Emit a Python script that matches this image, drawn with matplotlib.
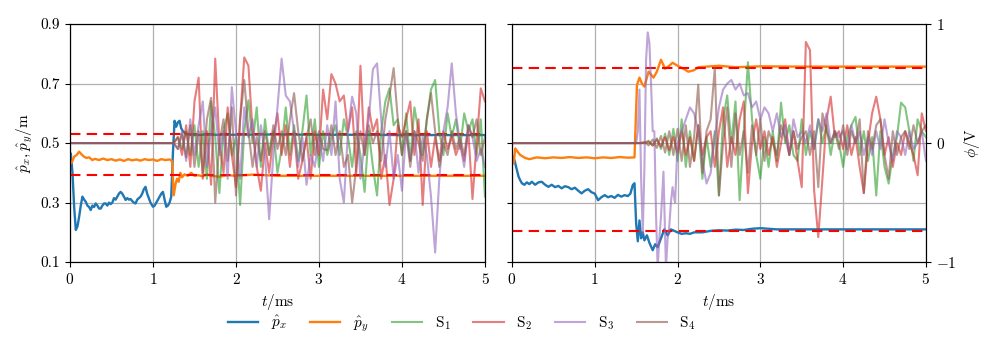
import numpy as np
import matplotlib
matplotlib.use("Agg")
import matplotlib.pyplot as plt

plt.rcParams.update({
    "font.family": "serif",
    "font.serif": ["cmr10"],
    "mathtext.fontset": "cm",
    "axes.formatter.use_mathtext": True,
    "font.size": 11,
    "axes.unicode_minus": True,
})

# ---------------- Left panel data ----------------
L_px_t = [0.00, 0.01, 0.03, 0.05, 0.07, 0.09, 0.11, 0.13, 0.15, 0.17, 0.19, 0.21, 0.23, 0.25, 0.27,
          0.29, 0.31, 0.33, 0.35, 0.37, 0.39, 0.41, 0.43, 0.45, 0.47, 0.49, 0.51, 0.53, 0.55, 0.57,
          0.59, 0.61, 0.63, 0.65, 0.67, 0.69, 0.71, 0.73, 0.75, 0.77, 0.79, 0.81, 0.83, 0.85, 0.87,
          0.89, 0.91, 0.93, 0.95, 0.97, 1.00, 1.02, 1.04, 1.06, 1.08, 1.10, 1.12, 1.14, 1.16, 1.18,
          1.20, 1.22, 1.24, 1.26, 1.28, 1.30, 1.32, 1.34, 1.36, 1.38, 1.40, 1.45, 1.50, 1.60, 1.80,
          2.00, 2.50, 3.00, 3.50, 4.00, 4.50, 5.00]
L_px = [0.45, 0.465, 0.40, 0.286, 0.208, 0.22, 0.252, 0.29, 0.32, 0.31, 0.303, 0.29, 0.285, 0.275, 0.29,
        0.285, 0.297, 0.29, 0.28, 0.28, 0.29, 0.297, 0.297, 0.29, 0.30, 0.295, 0.30, 0.315, 0.31, 0.32,
        0.33, 0.336, 0.33, 0.32, 0.309, 0.315, 0.31, 0.312, 0.305, 0.30, 0.297, 0.31, 0.315, 0.32, 0.33,
        0.345, 0.353, 0.33, 0.315, 0.30, 0.286, 0.29, 0.30, 0.31, 0.32, 0.33, 0.336, 0.31, 0.286, 0.29,
        0.30, 0.32, 0.465, 0.575, 0.555, 0.57, 0.575, 0.55, 0.54, 0.535, 0.53, 0.528, 0.527, 0.528, 0.528,
        0.528, 0.529, 0.528, 0.528, 0.527, 0.527, 0.527]

L_py_t = [0.00, 0.01, 0.03, 0.05, 0.08, 0.11, 0.14, 0.17, 0.20, 0.23, 0.27, 0.30, 0.35, 0.40, 0.45,
          0.50, 0.55, 0.60, 0.65, 0.70, 0.75, 0.80, 0.85, 0.90, 0.95, 1.00, 1.05, 1.10, 1.15, 1.20,
          1.23, 1.25, 1.27, 1.29, 1.31, 1.33, 1.35, 1.38, 1.42, 1.46, 1.50, 1.55, 1.60, 1.65, 1.70,
          1.80, 1.90, 2.00, 2.20, 2.50, 3.00, 3.50, 4.00, 4.50, 5.00]
L_py = [0.43, 0.432, 0.44, 0.454, 0.46, 0.471, 0.462, 0.454, 0.45, 0.452, 0.443, 0.447, 0.443, 0.448, 0.443,
        0.446, 0.441, 0.445, 0.44, 0.446, 0.442, 0.445, 0.441, 0.446, 0.443, 0.445, 0.44, 0.446, 0.443, 0.445,
        0.44, 0.325, 0.36, 0.38, 0.37, 0.40, 0.385, 0.395, 0.39, 0.40, 0.39, 0.392, 0.388, 0.395, 0.39,
        0.387, 0.392, 0.39, 0.394, 0.39, 0.39, 0.39, 0.39, 0.39, 0.39]

L_ref = [0.530, 0.392]

# S signals (phi), left: flat at 0 until 1.25 ms, then sampled every 0.05 ms up to 5 ms
L_S_t = [0.0] + [round(1.25 + 0.05 * i, 2) for i in range(76)]
L_S1 = [0, 0, 0.05, -0.05, 0.1, -0.1, 0.15, -0.2, 0.1, -0.3, 0.35, 0.05, -0.42, 0.1, 0.25, -0.1,
        0.05, -0.52, 0.1, 0.36, 0.0, 0.3, -0.2, 0.2, -0.1, 0.1, -0.25, -0.05, 0.3, -0.1, 0.15,
        -0.15, 0.1, 0.4, -0.1, 0.2, -0.2, 0.1, -0.1, 0.05, 0.15, -0.1, 0.2, 0.05, -0.2, 0.1,
        -0.1, -0.41, 0.1, -0.2, -0.44, 0.1, 0.35, 0.46, 0.15, 0.2, -0.1, 0.25, -0.15, 0.3, 0.1,
        -0.1, 0.2, 0.45, 0.53, 0.1, -0.1, 0.25, 0.05, 0.2, -0.05, 0.25, 0.1, 0.2, -0.1, 0.2, -0.45]
L_S2 = [0, 0, 0.05, -0.1, 0.15, -0.2, 0.35, 0.55, -0.3, 0.1, -0.35, 0.71, 0.0, -0.25, 0.3, -0.1,
        -0.37, 0.2, 0.72, 0.65, 0.1, -0.2, -0.4, 0.0, -0.25, 0.05, 0.25, -0.1, 0.15, -0.2, 0.1,
        -0.3, -0.15, 0.05, -0.3, 0.1, -0.1, 0.45, 0.2, 0.58, 0.5, 0.35, 0.4, 0.1, 0.3, -0.25,
        0.65, -0.1, 0.3, 0.1, 0.2, -0.3, -0.1, -0.52, -0.3, 0.15, 0.05, 0.2, 0.35, -0.1, 0.2,
        -0.52, 0.1, -0.2, 0.05, -0.15, 0.1, -0.05, 0.05, -0.1, 0.0, -0.15, 0.1, -0.47, 0.0, 0.46, 0.35]
L_S3 = [0, 0, -0.05, 0.1, -0.15, 0.2, -0.1, 0.15, 0.35, -0.2, 0.1, 0.3, -0.1, 0.1, -0.3, 0.47,
        0.1, -0.3, 0.3, 0.05, 0.2, -0.2, 0.15, -0.1, -0.64, -0.1, 0.3, 0.71, 0.4, 0.35, 0.1,
        -0.2, 0.05, -0.35, -0.1, -0.2, 0.05, -0.15, 0.15, -0.1, 0.35, -0.3, -0.5, 0.1, 0.39, 0.25,
        -0.3, 0.0, 0.2, 0.62, 0.67, 0.2, -0.2, 0.1, -0.3, -0.1, -0.4, 0.1, -0.15, 0.1, -0.25,
        0.05, -0.1, -0.45, -0.92, -0.3, 0.1, 0.3, 0.67, 0.25, 0.0, -0.2, 0.15, 0.05, -0.15, -0.05, -0.2]
L_S4 = [0, 0, -0.05, 0.08, -0.12, 0.15, -0.2, 0.1, -0.25, 0.2, 0.38, -0.5, 0.0, 0.2, -0.15, 0.3,
        -0.44, 0.2, 0.53, 0.1, -0.2, 0.05, -0.15, 0.1, -0.1, 0.15, -0.05, 0.1, -0.1, 0.2, 0.42,
        0.1, -0.15, 0.05, 0.2, -0.1, 0.1, -0.05, -0.06, 0.15, -0.1, 0.1, -0.2, -0.1, -0.5, -0.2,
        0.1, -0.1, 0.15, 0.0, 0.1, -0.15, 0.2, 0.4, 0.63, 0.2, -0.1, 0.1, -0.2, 0.1, 0.0,
        -0.15, 0.2, 0.42, 0.1, -0.2, 0.0, -0.1, 0.1, -0.05, 0.05, -0.1, 0.15, 0.05, 0.2, -0.1, 0.05]

# ---------------- Right panel data ----------------
R_px_t = [0.00, 0.03, 0.05, 0.08, 0.10, 0.12, 0.15, 0.18, 0.21, 0.24, 0.28, 0.32, 0.36, 0.40, 0.44,
          0.48, 0.52, 0.56, 0.60, 0.64, 0.68, 0.72, 0.76, 0.80, 0.84, 0.88, 0.92, 0.96, 1.00, 1.04,
          1.08, 1.12, 1.16, 1.20, 1.24, 1.28, 1.32, 1.36, 1.40, 1.43, 1.46, 1.48, 1.50, 1.52, 1.54,
          1.56, 1.58, 1.60, 1.63, 1.66, 1.70, 1.73, 1.76, 1.80, 1.84, 1.88, 1.92, 1.96, 2.00, 2.05,
          2.10, 2.15, 2.20, 2.30, 2.40, 2.50, 2.60, 2.70, 2.80, 2.90, 3.00, 3.20, 3.50, 4.00, 4.50, 5.00]
R_px = [0.46, 0.443, 0.42, 0.387, 0.375, 0.365, 0.36, 0.368, 0.362, 0.37, 0.36, 0.368, 0.37, 0.36, 0.353,
        0.36, 0.352, 0.356, 0.348, 0.355, 0.352, 0.345, 0.35, 0.34, 0.331, 0.34, 0.345, 0.335, 0.33, 0.308,
        0.318, 0.325, 0.318, 0.322, 0.316, 0.326, 0.32, 0.325, 0.322, 0.33, 0.359, 0.365, 0.23, 0.17, 0.24,
        0.18, 0.20, 0.173, 0.19, 0.165, 0.14, 0.16, 0.15, 0.18, 0.21, 0.19, 0.21, 0.205, 0.20, 0.195,
        0.197, 0.195, 0.2, 0.2, 0.205, 0.207, 0.206, 0.209, 0.208, 0.212, 0.214, 0.21, 0.21, 0.21, 0.21, 0.21]

R_py_t = [0.00, 0.02, 0.04, 0.07, 0.10, 0.13, 0.16, 0.21, 0.30, 0.40, 0.50, 0.60, 0.70, 0.80, 0.90,
          1.00, 1.10, 1.20, 1.30, 1.40, 1.48, 1.51, 1.54, 1.57, 1.60, 1.63, 1.65, 1.68, 1.71,
          1.75, 1.80, 1.85, 1.90, 1.94, 2.00, 2.07, 2.13, 2.20, 2.25, 2.35, 2.50, 2.70, 3.00,
          3.50, 4.00, 4.50, 5.00]
R_py = [0.43, 0.432, 0.482, 0.47, 0.46, 0.455, 0.45, 0.446, 0.452, 0.449, 0.452, 0.45, 0.453, 0.45, 0.452,
        0.449, 0.452, 0.45, 0.453, 0.451, 0.452, 0.695, 0.72, 0.70, 0.69, 0.72, 0.74, 0.73, 0.72,
        0.74, 0.78, 0.75, 0.76, 0.77, 0.76, 0.75, 0.74, 0.745, 0.755, 0.757, 0.76, 0.755, 0.758,
        0.757, 0.757, 0.757, 0.757]

R_ref = [0.752, 0.204]

R_S_t = [0.0] + [round(1.50 + 0.05 * i, 2) for i in range(71)]
R_S1 = [0, 0, 0, 0.0, 0.02, -0.02, 0.04, -0.05, 0.08, -0.1, 0.12, -0.15, 0.2, -0.2, 0.1, -0.15,
        0.15, -0.3, 0.05, -0.2, 0.1, -0.44, 0.2, 0.4, 0.0, 0.35, -0.48, 0.1, 0.68, 0.2, -0.1,
        -0.3, 0.05, -0.2, 0.1, -0.15, 0.34, 0.0, 0.15, -0.1, -0.15, 0.2, -0.1, 0.1, -0.05, 0.2,
        0.0, 0.15, -0.1, 0.1, 0.0, -0.2, 0.05, 0.15, 0.22, -0.1, 0.1, -0.15, 0.05, -0.44, 0.1,
        -0.2, -0.34, -0.1, 0.05, 0.34, 0.3, 0.1, -0.15, 0.2, 0.1, 0.05]
R_S2 = [0, 0, 0, 0, 0.01, -0.02, 0.03, -0.03, 0.05, -0.06, 0.05, -0.08, 0.1, -0.1, 0.05, -0.15,
        0.15, -0.1, 0.05, 0.1, -0.2, 0.1, 0.3, -0.2, 0.05, -0.1, 0.2, 0.35, -0.42, 0.0, 0.2,
        -0.05, 0.1, -0.1, 0.05, -0.2, 0.0, 0.2, -0.1, 0.1, -0.15, -0.37, 0.85, 0.78, -0.4, -0.79,
        -0.3, 0.2, 0.39, 0.05, 0.1, -0.05, 0.15, -0.1, 0.05, -0.2, -0.42, 0.0, 0.25, 0.39, 0.2,
        -0.1, 0.05, -0.2, 0.0, -0.1, 0.1, 0.0, -0.1, -0.27, 0.25, 0.1]
R_S3_t = [0.00, 1.50, 1.52, 1.54, 1.56, 1.58, 1.60, 1.62, 1.64, 1.66, 1.68, 1.70, 1.72, 1.74, 1.76,
          1.78, 1.80, 1.83, 1.86, 1.88, 1.90, 1.92, 1.94, 1.97, 2.00, 2.05, 2.10, 2.15, 2.20, 2.25,
          2.30, 2.35, 2.40, 2.45, 2.50, 2.55, 2.60, 2.65, 2.70, 2.75, 2.80, 2.85, 2.90, 2.95, 3.00,
          3.05, 3.10, 3.15, 3.20, 3.25, 3.30, 3.35, 3.40, 3.45, 3.50, 3.55, 3.60, 3.65, 3.70, 3.75,
          3.80, 3.85, 3.90, 3.95, 4.00, 4.05, 4.10, 4.15, 4.20, 4.25, 4.30, 4.35, 4.40, 4.45, 4.50,
          4.55, 4.60, 4.65, 4.70, 4.75, 4.80, 4.85, 4.90, 4.95, 5.00]
R_S3 = [0, 0, 0.1, 0.45, -0.3, -0.76, -0.2, 0.7, 0.93, 0.84, 0.5, 0.1, 0.1, -0.6, -1.05,
        -0.8, -0.62, -0.24, -1.05, -0.8, -0.7, -0.5, -0.37, -0.5, 0.0, 0.1, 0.2, 0.3, 0.25, 0.1,
        -0.15, -0.34, -0.25, 0.05, 0.3, 0.45, 0.5, 0.53, 0.45, 0.5, 0.4, 0.42, 0.3, 0.35, 0.2,
        0.3, 0.25, 0.1, 0.25, 0.05, 0.15, -0.1, 0.2, 0.05, 0.1, 0.0, 0.15, -0.05, 0.2, 0.1,
        0.25, 0.0, 0.1, 0.05, 0.1, -0.05, 0.15, 0.0, 0.1, -0.1, 0.05, -0.1, 0.1, -0.05, 0.2,
        0.0, -0.15, 0.1, 0.05, -0.1, 0.1, -0.05, 0.0, 0.1, -0.15]
R_S4 = [0, 0, 0, 0.01, -0.02, 0.03, -0.04, 0.06, -0.08, 0.1, -0.1, 0.12, -0.15, 0.15, -0.2, 0.05,
        0.49, -0.25, 0.1, 0.2, 0.63, -0.44, 0.0, 0.3, -0.2, 0.25, -0.1, 0.1, -0.25, 0.15, -0.1,
        0.2, -0.15, 0.1, 0.0, -0.1, 0.15, 0.05, -0.1, 0.1, -0.05, 0.05, 0.1, -0.1, 0.1, -0.37,
        0.25, 0.1, 0.0, 0.1, -0.05, 0.15, -0.1, 0.1, 0.0, 0.2, -0.42, 0.1, -0.05, 0.15, 0.2,
        -0.1, -0.3, 0.1, -0.1, 0.05, 0.1, -0.05, 0.15, 0.0, 0.1, 0.15]

labels = [r"$\hat{p}_x$", r"$\hat{p}_y$", r"$\mathrm{S}_1$", r"$\mathrm{S}_2$",
          r"$\mathrm{S}_3$", r"$\mathrm{S}_4$"]
colors = ["#1f77b4", "#ff7f0e", "#2ca02c", "#d62728", "#9467bd", "#8c564b"]

fig = plt.figure(figsize=(9.97, 3.49), dpi=100)
axL = fig.add_axes([0.0702, 0.249, 0.4162, 0.682])
axR = fig.add_axes([0.5135, 0.249, 0.4152, 0.682], sharey=axL)

def panel(ax, px_t, px, py_t, py, ref, s_list):
    ax.plot(px_t, px, color=colors[0], lw=1.7, label=labels[0])
    ax.plot(py_t, py, color=colors[1], lw=1.7, label=labels[1])
    for r in ref:
        ax.axhline(r, color="red", ls="--", lw=1.5, dashes=(5, 3))
    ax.set_xlim(0, 5)
    ax.set_ylim(0.1, 0.9)
    ax.set_xticks([0, 1, 2, 3, 4, 5])
    ax.set_yticks([0.1, 0.3, 0.5, 0.7, 0.9])
    ax.grid(True, color="#b0b0b0", lw=0.9)
    ax.set_xlabel(r"$t/\mathrm{ms}$")
    tw = ax.twinx()
    for k, (st, sv) in enumerate(s_list):
        tw.plot(st, sv, color=colors[2 + k], lw=1.5, alpha=0.6, label=labels[2 + k])
    tw.set_ylim(-1, 1)
    return tw

twL = panel(axL, L_px_t, L_px, L_py_t, L_py, L_ref,
            [(L_S_t, L_S1), (L_S_t, L_S2), (L_S_t, L_S3), (L_S_t, L_S4)])
twR = panel(axR, R_px_t, R_px, R_py_t, R_py, R_ref,
            [(R_S_t, R_S1), (R_S_t, R_S2), (R_S3_t, R_S3), (R_S_t, R_S4)])

axL.yaxis.set_major_formatter(matplotlib.ticker.FormatStrFormatter("%.1f"))
axL.set_ylabel(r"$\hat{p}_x, \hat{p}_y/\mathrm{m}$")
twL.set_yticks([])
plt.setp(axR.get_yticklabels(), visible=False)
twR.set_yticks([-1, 0, 1])
twR.set_ylabel(r"$\phi/\mathrm{V}$")

h1, l1 = axL.get_legend_handles_labels()
h2, l2 = twL.get_legend_handles_labels()
fig.legend(h1 + h2, l1 + l2, loc="center", bbox_to_anchor=(0.463, 0.072), ncol=6,
           frameon=False, columnspacing=1.5, handlelength=2.0, handletextpad=0.8, fontsize=11)

fig.savefig("out.png", dpi=100)
